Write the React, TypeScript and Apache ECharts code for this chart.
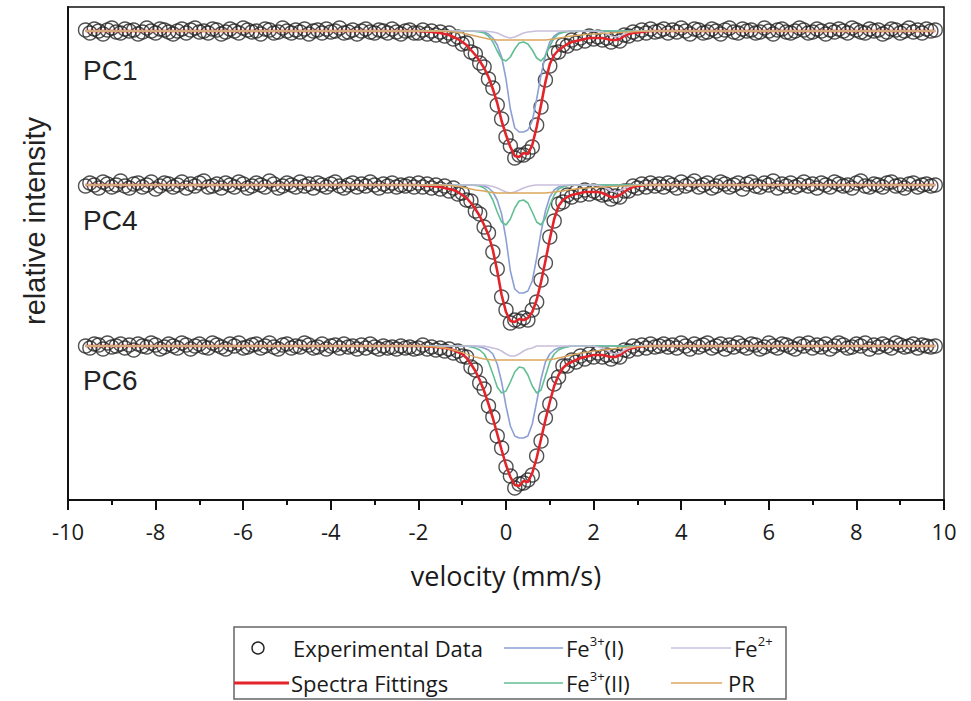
import React, { useEffect, useRef } from "react";
import * as echarts from "echarts";

// ---------- DATA ----------
// Experimental velocity channels: start and step (mm/s)
const V_START = -9.6;
const V_STEP = 0.1;

// Experimental data, relative transmission in % (195 channels, -9.6 ... 9.8 mm/s)
const PC1_DATA = [
  100.1, 99.8, 100.2, 100.0, 99.7, 100.1, 100.3, 99.9, 99.8, 100.2,
  100.0, 100.1, 99.7, 99.9, 100.3, 100.0, 99.8, 100.2, 100.1, 99.9,
  99.7, 100.0, 100.2, 99.8, 100.1, 100.3, 99.9, 100.0, 99.8, 100.2,
  100.1, 99.7, 99.9, 100.2, 100.0, 99.8, 100.3, 100.1, 99.9, 100.0,
  99.7, 100.2, 100.1, 99.8, 99.9, 100.3, 100.0, 99.8, 100.1, 99.9,
  100.2, 99.7, 100.0, 100.1, 99.8, 100.2, 99.9, 100.0, 100.3, 99.8,
  99.9, 100.1, 99.7, 100.0, 100.2, 99.9, 99.8, 100.1, 100.0, 99.8,
  100.2, 99.9, 99.7, 100.0, 100.1, 99.8,
  99.8, 100.1, 99.7, 100.0, 99.6, 99.9, 99.5, 99.8, 99.2, 99.4,
  98.7, 98.8, 97.9, 97.7, 96.8, 96.4, 95.2, 94.3, 92.6, 91.2,
  89.4, 88.5, 87.3, 87.6, 87.6, 87.9, 88.4, 90.6, 92.4, 95.1,
  96.5, 97.8, 97.9, 98.6, 98.5, 99.1, 98.8, 99.3, 99.0, 99.5,
  99.2, 99.4, 99.1, 99.3, 98.9, 99.2, 99.0, 99.6, 99.5, 99.9,
  99.7, 100.1, 99.8, 100.2, 99.9, 100.0,
  100.2, 99.8, 100.1, 99.9, 100.3, 100.0, 99.7, 100.2, 100.1, 99.8,
  99.9, 100.2, 100.0, 99.7, 100.1, 100.3, 99.9, 99.8, 100.2, 100.0,
  100.1, 99.8, 99.9, 100.3, 100.0, 99.7, 100.1, 100.2, 99.9, 99.8,
  100.0, 100.3, 100.1, 99.8, 99.9, 100.2, 100.0, 99.7, 100.1, 99.9,
  100.2, 100.0, 99.8, 100.3, 100.1, 99.9, 99.8, 100.2, 100.0, 100.1,
  99.7, 99.9, 100.2, 100.1, 99.8, 100.0, 100.3, 99.9, 100.1, 99.8,
  100.2, 100.0, 100.1,
];

const PC4_DATA = [
  99.9, 100.2, 100.0, 99.7, 100.3, 100.1, 99.8, 100.0, 100.4, 99.9,
  99.7, 100.1, 100.2, 99.8, 100.0, 100.3, 99.6, 99.9, 100.2, 100.1,
  99.8, 100.0, 100.3, 99.7, 100.1, 99.9, 100.2, 100.4, 99.8, 99.9,
  100.1, 99.7, 100.2, 100.0, 99.8, 100.3, 100.1, 99.7, 99.9, 100.2,
  100.0, 99.8, 100.4, 100.1, 99.7, 99.9, 100.2, 100.0, 99.8, 100.3,
  99.9, 100.1, 99.7, 100.2, 100.0, 99.8, 100.1, 100.3, 99.9, 99.7,
  100.0, 100.2, 99.8, 100.1, 99.9, 100.3, 100.0, 99.7, 100.1, 99.9,
  100.2, 99.8, 100.0, 99.9, 100.1, 99.8,
  100.2, 99.8, 100.1, 99.7, 100.0, 99.6, 99.9, 99.4, 99.7, 99.1,
  99.2, 98.5, 98.4, 97.4, 97.1, 95.8, 95.2, 93.3, 91.6, 88.8,
  87.5, 86.2, 86.5, 86.4, 86.7, 86.5, 87.5, 88.3, 90.5, 92.2,
  94.8, 96.4, 98.1, 98.3, 99.0, 98.8, 99.3, 99.0, 99.5, 99.1,
  99.4, 99.2, 99.0, 99.1, 98.6, 98.9, 98.8, 99.4, 99.4, 99.9,
  99.7, 100.1, 99.8, 100.2, 99.9, 100.1,
  99.8, 100.2, 100.0, 99.7, 100.3, 99.9, 100.1, 100.4, 99.8, 100.0,
  100.2, 99.7, 99.9, 100.3, 100.1, 99.8, 100.0, 100.2, 99.6, 100.1,
  100.3, 99.9, 99.8, 100.2, 100.0, 100.4, 99.7, 100.1, 99.9, 100.2,
  99.8, 100.0, 100.3, 99.9, 100.1, 99.7, 100.2, 100.0, 99.8, 100.3,
  100.1, 99.9, 100.0, 99.7, 100.2, 100.4, 99.9, 99.8, 100.1, 100.0,
  99.8, 100.2, 100.3, 99.9, 100.0, 99.7, 100.1, 100.2, 99.8, 100.0,
  100.1, 99.9, 100.0,
];

const PC6_DATA = [
  100.0, 99.8, 100.2, 100.1, 99.7, 100.3, 99.9, 100.0, 100.2, 99.8,
  100.1, 99.6, 100.2, 100.0, 99.9, 100.3, 100.1, 99.7, 99.9, 100.2,
  100.0, 99.8, 100.3, 100.1, 99.7, 100.0, 100.2, 99.9, 99.8, 100.3,
  100.1, 99.9, 99.7, 100.2, 100.0, 100.3, 99.8, 99.9, 100.1, 100.2,
  99.8, 100.0, 100.3, 99.9, 99.7, 100.1, 100.2, 99.8, 100.0, 99.9,
  100.3, 100.1, 99.8, 99.9, 100.2, 99.7, 100.0, 100.1, 99.8, 100.2,
  99.9, 100.0, 99.7, 100.1, 99.8, 100.2, 99.9, 99.7, 100.0, 99.8,
  99.9, 99.7, 100.0, 99.8, 99.9, 99.7,
  99.8, 100.1, 99.7, 99.9, 99.6, 99.8, 99.5, 99.7, 99.3, 99.5,
  99.0, 98.9, 97.9, 97.6, 96.3, 95.7, 94.0, 92.9, 91.0, 89.8,
  87.9, 87.0, 85.8, 86.2, 86.3, 86.6, 87.1, 89.0, 90.5, 92.8,
  94.2, 96.2, 96.9, 98.0, 98.0, 98.6, 98.4, 99.0, 98.7, 99.2,
  98.9, 99.3, 98.9, 99.1, 98.7, 99.0, 98.9, 99.6, 99.5, 100.0,
  99.7, 100.1, 99.8, 100.2, 99.9, 100.0,
  100.2, 99.9, 100.1, 99.8, 100.3, 100.0, 99.7, 100.2, 99.9, 100.1,
  100.3, 99.8, 100.0, 100.2, 99.7, 100.1, 99.9, 100.3, 100.0, 99.8,
  100.2, 100.1, 99.7, 99.9, 100.3, 100.0, 99.8, 100.2, 100.1, 99.9,
  99.7, 100.2, 100.0, 100.3, 99.8, 100.1, 99.9, 100.2, 99.7, 100.0,
  100.3, 100.1, 99.8, 99.9, 100.2, 100.0, 100.3, 99.7, 100.1, 99.9,
  100.2, 100.0, 99.8, 100.3, 100.1, 99.9, 100.0, 100.2, 99.8, 100.1,
  100.0, 99.9, 100.0,
];

// Velocities at which the fitted curves were read (mm/s)
const FIT_V = [
  -9.6,
  -2.0, -1.9, -1.8, -1.7, -1.6, -1.5, -1.4, -1.3, -1.2, -1.1,
  -1.0, -0.9, -0.8, -0.7, -0.6, -0.5, -0.4, -0.3, -0.2, -0.1,
  0.0, 0.1, 0.2, 0.3, 0.4, 0.5, 0.6, 0.7, 0.8, 0.9,
  1.0, 1.1, 1.2, 1.3, 1.4, 1.5, 1.6, 1.7, 1.8, 1.9,
  2.0, 2.1, 2.2, 2.3, 2.4, 2.5, 2.6, 2.7, 2.8, 2.9,
  3.0, 3.1, 3.2, 3.3, 3.4, 3.5,
  9.8,
];

// ---- PC1 fitted curves (relative transmission, %) ----
const PC1_FIT = [
  100,
  100.0, 99.95, 99.95, 99.9, 99.85, 99.8, 99.7, 99.6, 99.4, 99.2,
  98.9, 98.6, 98.1, 97.6, 97.0, 96.3, 95.4, 94.2, 92.8, 91.0,
  89.6, 88.4, 87.5, 87.4, 87.8, 87.7, 88.6, 90.4, 92.6, 94.9,
  96.7, 97.6, 98.1, 98.4, 98.7, 98.9, 99.0, 99.1, 99.2, 99.3,
  99.3, 99.3, 99.3, 99.2, 99.1, 99.1, 99.2, 99.5, 99.7, 99.8,
  99.85, 99.9, 99.95, 100, 100, 100,
  100,
];
const PC1_FE3_I = [
  100,
  100, 100, 100, 100, 100, 100, 100, 100, 100, 100,
  100, 100, 100, 100, 99.95, 99.9, 99.7, 99.3, 98.6, 97.4,
  95.2, 92.2, 90.3, 89.9, 89.9, 90.1, 91.0, 93.2, 95.6, 97.6,
  98.9, 99.5, 99.8, 99.9, 99.95, 100, 100, 100, 100, 100,
  100, 100, 100, 100, 100, 100, 100, 100, 100, 100,
  100, 100, 100, 100, 100, 100,
  100,
];
const PC1_FE3_II = [
  100,
  100, 100, 100, 100, 100, 100, 100, 100, 100, 100,
  100, 100, 100, 99.95, 99.9, 99.8, 99.5, 98.9, 98.0, 97.2,
  97.0, 97.4, 98.2, 98.8, 98.9, 98.7, 98.1, 97.3, 97.0, 97.5,
  98.5, 99.3, 99.7, 99.85, 99.95, 100, 100, 100, 100, 100,
  100, 100, 100, 100, 100, 100, 100, 100, 100, 100,
  100, 100, 100, 100, 100, 100,
  100,
];
const PC1_FE2 = [
  100,
  100, 100, 100, 100, 100, 100, 100, 100, 100, 100,
  100, 100, 100, 100, 100, 100, 99.95, 99.9, 99.8, 99.6,
  99.4, 99.3, 99.4, 99.6, 99.8, 99.9, 99.95, 100, 100, 100,
  100, 100, 100, 100, 100, 100, 100, 100, 100, 100,
  100, 99.95, 99.9, 99.7, 99.5, 99.4, 99.5, 99.7, 99.9, 99.95,
  100, 100, 100, 100, 100, 100,
  100,
];
const PC1_PR = [
  100,
  100, 100, 100, 100, 100, 100, 99.95, 99.95, 99.9, 99.85,
  99.8, 99.7, 99.6, 99.5, 99.4, 99.3, 99.2, 99.15, 99.1, 99.1,
  99.1, 99.1, 99.1, 99.1, 99.1, 99.1, 99.1, 99.1, 99.1, 99.1,
  99.15, 99.2, 99.3, 99.35, 99.45, 99.5, 99.55, 99.6, 99.65, 99.68,
  99.7, 99.72, 99.75, 99.78, 99.8, 99.83, 99.85, 99.88, 99.9, 99.93,
  99.95, 99.97, 100, 100, 100, 100,
  100,
];

// ---- PC4 fitted curves ----
const PC4_FIT = [
  100,
  100, 99.95, 99.9, 99.9, 99.85, 99.8, 99.7, 99.6, 99.5, 99.3,
  99.0, 98.7, 98.2, 97.6, 96.9, 96.0, 95.0, 93.5, 91.4, 89.0,
  87.3, 86.4, 86.3, 86.6, 86.5, 86.7, 87.3, 88.5, 90.3, 92.4,
  94.6, 96.6, 97.9, 98.5, 98.8, 99.0, 99.1, 99.2, 99.3, 99.3,
  99.3, 99.3, 99.2, 99.0, 98.8, 98.8, 99.0, 99.3, 99.6, 99.8,
  99.9, 99.95, 100, 100, 100, 100,
  100,
];
const PC4_FE3_I = [
  100,
  100, 100, 100, 100, 100, 100, 100, 100, 100, 100,
  100, 100, 100, 100, 99.95, 99.9, 99.7, 99.3, 98.5, 97.1,
  94.6, 91.4, 89.6, 89.2, 89.2, 89.4, 90.4, 92.7, 95.3, 97.4,
  98.8, 99.5, 99.8, 99.9, 99.95, 100, 100, 100, 100, 100,
  100, 100, 100, 100, 100, 100, 100, 100, 100, 100,
  100, 100, 100, 100, 100, 100,
  100,
];
const PC4_FE3_II = [
  100,
  100, 100, 100, 100, 100, 100, 100, 100, 100, 100,
  100, 100, 100, 99.95, 99.9, 99.7, 99.3, 98.5, 97.3, 96.3,
  96.0, 96.6, 97.7, 98.4, 98.5, 98.2, 97.3, 96.3, 96.0, 96.7,
  98.0, 99.0, 99.6, 99.8, 99.95, 100, 100, 100, 100, 100,
  100, 100, 100, 100, 100, 100, 100, 100, 100, 100,
  100, 100, 100, 100, 100, 100,
  100,
];
const PC4_FE2 = [
  100,
  100, 100, 100, 100, 100, 100, 100, 100, 100, 100,
  100, 100, 100, 100, 100, 100, 99.95, 99.85, 99.7, 99.5,
  99.3, 99.2, 99.3, 99.5, 99.7, 99.85, 99.95, 100, 100, 100,
  100, 100, 100, 100, 100, 100, 100, 100, 100, 100,
  100, 99.95, 99.85, 99.65, 99.4, 99.3, 99.4, 99.65, 99.85, 99.95,
  100, 100, 100, 100, 100, 100,
  100,
];
const PC4_PR = [
  100,
  100, 100, 100, 100, 100, 100, 99.95, 99.95, 99.9, 99.85,
  99.8, 99.7, 99.6, 99.5, 99.45, 99.4, 99.3, 99.25, 99.2, 99.2,
  99.2, 99.2, 99.2, 99.2, 99.2, 99.2, 99.2, 99.2, 99.2, 99.2,
  99.25, 99.3, 99.35, 99.4, 99.5, 99.55, 99.6, 99.65, 99.7, 99.72,
  99.75, 99.77, 99.8, 99.82, 99.84, 99.86, 99.88, 99.9, 99.92, 99.94,
  99.96, 99.98, 100, 100, 100, 100,
  100,
];

// ---- PC6 fitted curves ----
const PC6_FIT = [
  100,
  100, 100, 99.95, 99.95, 99.9, 99.85, 99.8, 99.7, 99.6, 99.4,
  99.2, 98.8, 98.2, 97.5, 96.6, 95.5, 94.2, 92.8, 91.2, 89.6,
  88.1, 86.9, 86.1, 86.0, 86.5, 86.4, 87.3, 88.8, 90.7, 92.6,
  94.4, 96.0, 97.1, 97.8, 98.2, 98.4, 98.6, 98.8, 98.9, 99.0,
  99.1, 99.1, 99.1, 99.0, 98.9, 98.9, 99.1, 99.4, 99.7, 99.8,
  99.9, 99.95, 100, 100, 100, 100,
  100,
];
const PC6_FE3_I = [
  100,
  100, 100, 100, 100, 100, 100, 100, 100, 100, 100,
  100, 100, 100, 100, 99.9, 99.8, 99.6, 99.2, 98.2, 96.4,
  94.0, 92.0, 91.0, 90.8, 90.8, 91.0, 92.2, 94.4, 96.7, 98.4,
  99.2, 99.6, 99.8, 99.9, 99.95, 100, 100, 100, 100, 100,
  100, 100, 100, 100, 100, 100, 100, 100, 100, 100,
  100, 100, 100, 100, 100, 100,
  100,
];
const PC6_FE3_II = [
  100,
  100, 100, 100, 100, 100, 100, 100, 100, 100, 100,
  100, 100, 99.9, 99.8, 99.6, 99.2, 98.4, 97.2, 95.9, 95.3,
  95.5, 96.4, 97.4, 97.9, 97.8, 97.1, 96.0, 95.3, 95.6, 97.0,
  98.4, 99.2, 99.6, 99.8, 99.9, 100, 100, 100, 100, 100,
  100, 100, 100, 100, 100, 100, 100, 100, 100, 100,
  100, 100, 100, 100, 100, 100,
  100,
];
const PC6_FE2 = [
  100,
  100, 100, 100, 100, 100, 100, 100, 100, 100, 100,
  100, 100, 100, 100, 100, 100, 99.9, 99.8, 99.7, 99.5,
  99.2, 99.0, 99.0, 99.2, 99.5, 99.7, 99.8, 100, 100, 100,
  100, 100, 100, 100, 100, 100, 100, 100, 100, 100,
  100, 99.9, 99.8, 99.6, 99.3, 99.2, 99.3, 99.6, 99.8, 99.9,
  100, 100, 100, 100, 100, 100,
  100,
];
const PC6_PR = [
  100,
  100, 99.98, 99.95, 99.93, 99.9, 99.85, 99.8, 99.7, 99.6, 99.5,
  99.35, 99.2, 99.05, 98.9, 98.8, 98.7, 98.65, 98.6, 98.6, 98.6,
  98.6, 98.6, 98.6, 98.6, 98.6, 98.6, 98.6, 98.6, 98.6, 98.6,
  98.65, 98.7, 98.8, 98.9, 99.0, 99.1, 99.2, 99.28, 99.35, 99.42,
  99.48, 99.54, 99.6, 99.65, 99.7, 99.75, 99.8, 99.84, 99.88, 99.91,
  99.94, 99.96, 99.98, 100, 100, 100,
  100,
];

const SAMPLE_LABELS = ["PC1", "PC4", "PC6"];
// vertical stacking offsets of the three spectra (in % units)
const OFFSETS = [-53.1, -68.5, -84.6];

const SERIES_NAMES = [
  "Experimental Data",
  "Spectra Fittings",
  "Fe3+(I)",
  "Fe3+(II)",
  "Fe2+",
  "PR",
];

const COLORS = {
  data: "#262626",
  fit: "#e3242b",
  fe3i: "#8d9fd4",
  fe3ii: "#62bf94",
  fe2: "#c9bfdc",
  pr: "#dba75f",
};

const SANS = "'Open Sans', 'Noto Sans', sans-serif";
const ARIAL = "'Liberation Sans', Arial, sans-serif";

export default function App() {
  const ref = useRef<HTMLDivElement>(null);

  useEffect(() => {
    if (!ref.current) return;
    const chart = echarts.init(ref.current, null, { renderer: "svg" });

    const spectra = [
      { data: PC1_DATA, fit: PC1_FIT, fe3i: PC1_FE3_I, fe3ii: PC1_FE3_II, fe2: PC1_FE2, pr: PC1_PR },
      { data: PC4_DATA, fit: PC4_FIT, fe3i: PC4_FE3_I, fe3ii: PC4_FE3_II, fe2: PC4_FE2, pr: PC4_PR },
      { data: PC6_DATA, fit: PC6_FIT, fe3i: PC6_FE3_I, fe3ii: PC6_FE3_II, fe2: PC6_FE2, pr: PC6_PR },
    ];

    const series: any[] = [];
    spectra.forEach((s, k) => {
      const off = OFFSETS[k];
      series.push({
        type: "scatter",
        name: SERIES_NAMES[0],
        data: s.data.map((t, i) => [Math.round((V_START + i * V_STEP) * 100) / 100, t + off]),
        symbol: "circle",
        symbolSize: 14,
        itemStyle: { color: "rgba(255,255,255,0)", borderColor: COLORS.data, borderWidth: 1.4 },
        z: 2,
        silent: true,
      });
      const lines: [string, number[], string, number][] = [
        [SERIES_NAMES[1], s.fit, COLORS.fit, 2.6],
        [SERIES_NAMES[2], s.fe3i, COLORS.fe3i, 1.6],
        [SERIES_NAMES[3], s.fe3ii, COLORS.fe3ii, 1.6],
        [SERIES_NAMES[4], s.fe2, COLORS.fe2, 1.6],
        [SERIES_NAMES[5], s.pr, COLORS.pr, 1.3],
      ];
      lines.forEach(([name, arr, color, w], j) => {
        series.push({
          type: "line",
          name,
          data: FIT_V.map((v, i) => [v, arr[i] + off]),
          showSymbol: false,
          symbol: "none",
          lineStyle: { color, width: w },
          z: 3 + j,
          silent: true,
        });
      });
    });

    const supRich = {
      n: { fontSize: 22, fontFamily: SANS, color: "#1a1a1a", lineHeight: 28 },
      s: { fontSize: 13, fontFamily: SANS, color: "#1a1a1a", lineHeight: 16, verticalAlign: "top" },
    };

    const legendText = (x: number, y: number, text: string) => ({
      type: "text",
      x,
      y,
      style: {
        text,
        rich: supRich,
        fontSize: 22,
        fontFamily: SANS,
        fill: "#1a1a1a",
        verticalAlign: "middle",
        align: "left",
      },
    });
    const legendLine = (x1: number, x2: number, y: number, color: string, w: number) => ({
      type: "line",
      shape: { x1, y1: y, x2, y2: y },
      style: { stroke: color, lineWidth: w },
    });

    const row1 = 648;
    const row2 = 683;

    const graphic: any[] = [
      // sample labels
      ...SAMPLE_LABELS.map((t, k) => ({
        type: "text",
        x: 83,
        y: [70, 220, 380][k],
        style: { text: t, fontSize: 28, fontFamily: ARIAL, fill: "#222", verticalAlign: "middle" },
      })),
      // y-axis title
      {
        type: "text",
        x: 35,
        y: 221,
        rotation: Math.PI / 2,
        style: {
          text: "relative intensity",
          fontSize: 29,
          fontFamily: ARIAL,
          fill: "#222",
          align: "center",
          verticalAlign: "middle",
        },
      },
      // legend box
      {
        type: "rect",
        shape: { x: 234, y: 627, width: 552, height: 72 },
        style: { fill: "#fff", stroke: "#666", lineWidth: 1.5 },
      },
      {
        type: "circle",
        shape: { cx: 258, cy: row1, r: 6 },
        style: { fill: "none", stroke: COLORS.data, lineWidth: 1.4 },
      },
      legendText(293, row1, "Experimental Data"),
      legendLine(504, 563, row1, COLORS.fe3i, 1.6),
      legendText(566, row1, "{n|Fe}{s|3+}{n|(I)}"),
      legendLine(671, 731, row1, COLORS.fe2, 1.6),
      legendText(734, row1, "{n|Fe}{s|2+}"),
      legendLine(234, 289, row2, COLORS.fit, 3),
      legendText(291, row2, "Spectra Fittings"),
      legendLine(504, 563, row2, COLORS.fe3ii, 1.6),
      legendText(566, row2, "{n|Fe}{s|3+}{n|(II)}"),
      legendLine(671, 722, row2, COLORS.pr, 1.6),
      legendText(728, row2, "PR"),
    ];

    chart.setOption({
      animation: false,
      backgroundColor: "#ffffff",
      textStyle: { fontFamily: SANS },
      grid: {
        left: 68,
        top: 7,
        width: 876,
        height: 493,
        show: true,
        borderColor: "#111",
        borderWidth: 1.5,
        backgroundColor: "rgba(0,0,0,0)",
      },
      xAxis: {
        type: "value",
        min: -10,
        max: 10,
        interval: 2,
        axisLine: { show: true, onZero: false, lineStyle: { color: "#111", width: 2 } },
        axisTick: { show: true, length: 10, lineStyle: { color: "#111", width: 2 } },
        minorTick: { show: true, splitNumber: 2, length: 5, lineStyle: { color: "#111", width: 2 } },
        splitLine: { show: false },
        minorSplitLine: { show: false },
        axisLabel: { margin: 20, fontSize: 22, fontFamily: SANS, color: "#1a1a1a" },
        name: "velocity (mm/s)",
        nameLocation: "middle",
        nameGap: 62,
        nameTextStyle: { fontSize: 27, fontFamily: SANS, color: "#1a1a1a" },
      },
      yAxis: {
        type: "value",
        min: 0,
        max: 49.3,
        axisLine: { show: true, onZero: false, lineStyle: { color: "#111", width: 2 } },
        axisTick: { show: false },
        axisLabel: { show: false },
        splitLine: { show: false },
      },
      series,
      graphic,
    });

    return () => {
      chart.dispose();
    };
  }, []);

  return (
    <div
      ref={ref}
      style={{ position: "fixed", left: 0, top: 0, width: 971, height: 701, background: "#fff" }}
    />
  );
}
